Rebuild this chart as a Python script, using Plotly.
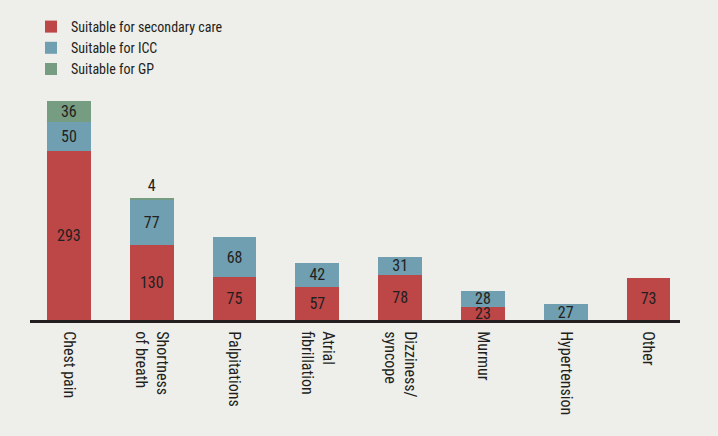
import plotly.graph_objects as go

categories = ["Chest pain", "Shortness<br>of breath", "Palpitations", "Atrial<br>fibrillation",
              "Dizziness/<br>syncope", "Murmur", "Hypertension", "Other"]
secondary = [293, 130, 75, 57, 78, 23, None, 73]
icc = [50, 77, 68, 42, 31, 28, 27, None]
gp = [36, 4, None, None, None, None, None, None]

RED = "#bd4647"
BLUE = "#6f9fb0"
GREEN = "#769c81"
INK = "#231f20"
BG = "#eeeeea"
FONT = "Liberation Sans Narrow, Roboto Condensed, Arial Narrow, Liberation Sans, sans-serif"


def labels(vals):
    return [("" if v is None else str(v)) for v in vals]


fig = go.Figure()
fig.add_trace(go.Bar(x=categories, y=secondary, name="Suitable for secondary care",
                     marker=dict(color=RED, line=dict(width=0)),
                     text=labels(secondary), textposition="inside", insidetextanchor="middle"))
fig.add_trace(go.Bar(x=categories, y=icc, name="Suitable for ICC",
                     marker=dict(color=BLUE, line=dict(width=0)),
                     text=labels(icc), textposition="inside", insidetextanchor="middle"))
fig.add_trace(go.Bar(x=categories, y=gp, name="Suitable for GP",
                     marker=dict(color=GREEN, line=dict(width=0)),
                     text=labels(gp),
                     textposition=["inside", "outside"] + ["inside"] * 6,
                     insidetextanchor="middle"))

LBL = 16
fig.update_traces(textfont=dict(family=FONT, size=LBL, color=INK),
                  insidetextfont=dict(family=FONT, size=LBL, color=INK),
                  outsidetextfont=dict(family=FONT, size=LBL, color=INK),
                  textangle=0, constraintext="none",
                  cliponaxis=False, width=0.53)

fig.update_layout(
    width=718, height=436,
    barmode="stack",
    paper_bgcolor=BG, plot_bgcolor=BG,
    margin=dict(l=30, r=38, t=86, b=116, autoexpand=False),
    font=dict(family=FONT, size=16, color=INK),
    uniformtext=dict(minsize=LBL, mode="show"),
    showlegend=True,
    legend=dict(traceorder="normal", xref="container", yref="container",
                x=31 / 718, y=1 - 11 / 436, xanchor="left", yanchor="top",
                font=dict(family=FONT, size=14, color=INK),
                bgcolor="rgba(0,0,0,0)", itemclick=False),
    xaxis=dict(range=[-0.47, 7.38], showline=True, linewidth=3, linecolor=INK,
               ticks="", tickangle=90, showgrid=False, zeroline=False, automargin=False,
               ticklabelstandoff=5,
               tickfont=dict(family=FONT, size=16, color=INK)),
    yaxis=dict(range=[0, 405], visible=False, showgrid=False, zeroline=False, automargin=False),
)

fig.write_html("out.html", config={"displayModeBar": False},
               post_script="document.body.style.margin='0';document.body.style.background='#eeeeea';")
